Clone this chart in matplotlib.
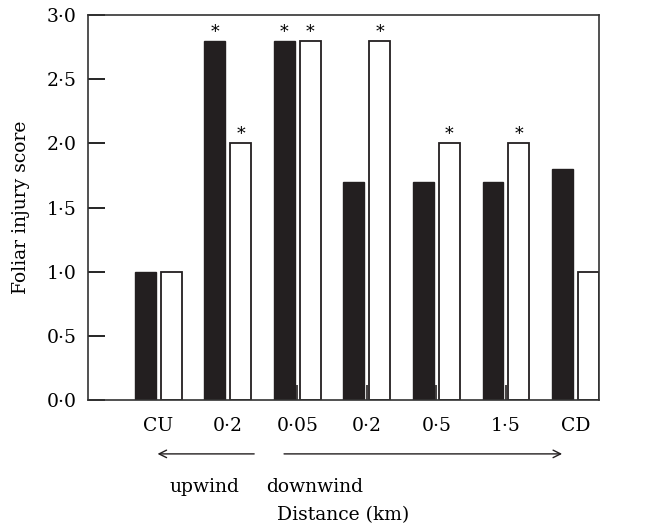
import numpy as np
import matplotlib.pyplot as plt

plt.rcParams['font.family'] = ['DejaVu Serif']
plt.rcParams['font.size'] = 13.5

# data
sites = ['CU', '0·2', '0·05', '0·2', '0·5', '1·5', 'CD']
black_vals = [1.0, 2.8, 2.8, 1.7, 1.7, 1.7, 1.8]
white_vals = [1.0, 2.0, 2.8, 2.8, 2.0, 2.0, 1.0]
black_sig = [False, True, True, False, False, False, False]
white_sig = [False, True, True, True, True, True, False]
yticks = [0.0, 0.5, 1.0, 1.5, 2.0, 2.5, 3.0]
inner_ticks = [2, 3, 4, 5]

def dot_fmt(v):
    return ('%.1f' % v).replace('.', '·')

x = np.arange(len(sites))
w = 0.30
off = 0.185

fig = plt.figure(figsize=(6.5, 5.25), dpi=100)
ax = fig.add_axes([0.1354, 0.2381, 0.9215 - 0.1354, 0.9714 - 0.2381])

ax.bar(x - off, black_vals, w, color='#231f20', edgecolor='#231f20', linewidth=1)
ax.bar(x + off, white_vals, w, color='white', edgecolor='#231f20', linewidth=1.3)

for xi, v, s in zip(x - off, black_vals, black_sig):
    if s:
        ax.annotate('*', (xi, v), xytext=(0, 0), textcoords='offset points',
                    ha='center', va='bottom', fontsize=12.5)
for xi, v, s in zip(x + off, white_vals, white_sig):
    if s:
        ax.annotate('*', (xi, v), xytext=(0, 0), textcoords='offset points',
                    ha='center', va='bottom', fontsize=12.5)

ax.set_xlim(-1.01, 6.34)
ax.set_ylim(0, 3.0)
ax.set_yticks(yticks)
ax.set_yticklabels([dot_fmt(v) for v in yticks])
ax.set_xticks(x)
ax.set_xticklabels(sites)
# small inner marks between the bars of the downwind groups
ax.xaxis.remove_overlapping_locs = False
ax.set_xticks(inner_ticks, minor=True)
ax.tick_params(axis='y', direction='in', length=12, width=1.2, pad=8)
ax.tick_params(axis='x', which='major', length=0, pad=12)
ax.tick_params(axis='x', which='minor', direction='in', length=11, width=1.2,
               color='#231f20')
for sp in ax.spines.values():
    sp.set_linewidth(1.2)
    sp.set_color('#333333')

ax.set_ylabel('Foliar injury score', labelpad=12)

tr = ax.get_xaxis_transform()
ax.annotate('', xy=(-0.05, -0.140), xytext=(1.42, -0.140), xycoords=tr,
            textcoords=tr, annotation_clip=False,
            arrowprops=dict(arrowstyle='->', lw=1, color='#231f20'))
ax.annotate('', xy=(5.85, -0.140), xytext=(1.77, -0.140), xycoords=tr,
            textcoords=tr, annotation_clip=False,
            arrowprops=dict(arrowstyle='->', lw=1, color='#231f20'))
ax.text(0.67, -0.226, 'upwind', transform=tr, ha='center', va='center')
ax.text(2.25, -0.226, 'downwind', transform=tr, ha='center', va='center')
ax.text(2.66, -0.299, 'Distance (km)', transform=tr, ha='center', va='center')

fig.savefig('out.png', dpi=100)
